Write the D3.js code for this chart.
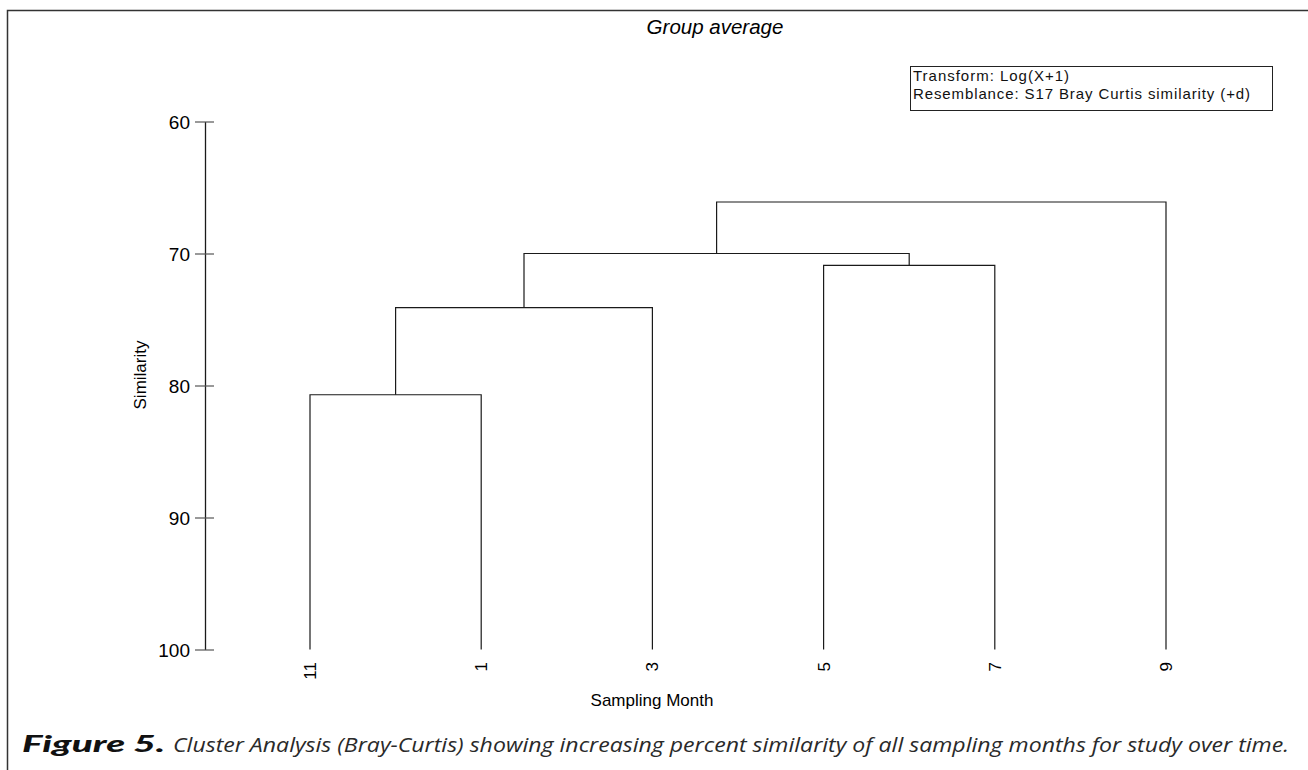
<!DOCTYPE html>
<html>
<head>
<meta charset="utf-8">
<script src="https://cdn.jsdelivr.net/npm/d3@7"></script>
<style>
  html, body { margin: 0; padding: 0; background: #fff; }
  svg { display: block; }
</style>
</head>
<body>
<svg id="chart" width="1308" height="770"></svg>
<script>
// Sampling months (leaf order of the dendrogram)
const leaves = ["11", "1", "3", "5", "7", "9"];
// Agglomeration steps: left child, right child, similarity (%) at which they join
const mergeLeft = ["11", "m1", "5", "m2", "m4"];
const mergeRight = ["1", "3", "7", "m3", "9"];
const mergeSimilarity = [80.7, 74.1, 70.9, 70.0, 66.1];
const mergeIds = ["m1", "m2", "m3", "m4", "m5"];
const yTicks = [60, 70, 80, 90, 100];

const svg = d3.select("#chart");
const ink = "#1a1a1a";
const sans = "Liberation Sans, Arial, sans-serif";

// page frame (top and left rules)
svg.append("path")
  .attr("d", "M7.5,770 V10.5 H1308")
  .attr("fill", "none").attr("stroke", "#333").attr("stroke-width", 1.5);

const x = d3.scalePoint().domain(leaves).range([310, 1166]);
const y = d3.scaleLinear().domain([60, 100]).range([121.5, 649.5]);

// position of every node: leaves at 100 % similarity, clusters at the midpoint of their children
const pos = {};
leaves.forEach(l => { pos[l] = { x: x(l), sim: 100 }; });
mergeIds.forEach((id, i) => {
  const a = pos[mergeLeft[i]], b = pos[mergeRight[i]];
  pos[id] = { x: (a.x + b.x) / 2, sim: mergeSimilarity[i] };
});

const links = mergeIds.map((id, i) => {
  const a = pos[mergeLeft[i]], b = pos[mergeRight[i]], s = mergeSimilarity[i];
  return `M${a.x},${y(a.sim)} V${y(s)} H${b.x} V${y(b.sim)}`;
});

svg.append("g")
  .selectAll("path")
  .data(links)
  .join("path")
  .attr("d", d => d)
  .attr("fill", "none")
  .attr("stroke", ink)
  .attr("stroke-width", 1.2);

// y axis
const yAxis = svg.append("g")
  .attr("transform", "translate(205,0)")
  .call(d3.axisLeft(y).tickValues(yTicks).tickSizeOuter(0).tickSizeInner(0).tickPadding(15));
yAxis.select(".domain").attr("stroke", ink).attr("stroke-width", 1.3);
yAxis.selectAll(".tick line").attr("x1", -10).attr("x2", 9).attr("stroke", "#555").attr("stroke-width", 1.2);
yAxis.selectAll(".tick text")
  .attr("font-family", sans)
  .attr("font-size", 19).attr("fill", "#000").attr("dy", "0.35em");

// leaf labels, reading upwards
svg.append("g")
  .selectAll("text")
  .data(leaves)
  .join("text")
  .attr("transform", d => `translate(${x(d)},662) rotate(-90)`)
  .attr("text-anchor", "end")
  .attr("dy", "0.35em")
  .attr("font-family", sans)
  .attr("font-size", 17)
  .text(d => d);

// axis titles
svg.append("text")
  .attr("transform", "translate(146,375) rotate(-90)")
  .attr("text-anchor", "middle")
  .attr("font-family", sans)
  .attr("font-size", 17)
  .text("Similarity");

svg.append("text")
  .attr("x", 652).attr("y", 706)
  .attr("text-anchor", "middle")
  .attr("font-family", sans)
  .attr("font-size", 17)
  .text("Sampling Month");

// title
svg.append("text")
  .attr("x", 715).attr("y", 34)
  .attr("text-anchor", "middle")
  .attr("font-family", sans)
  .attr("font-style", "italic")
  .attr("font-size", 20.5)
  .text("Group average");

// method note box
const noteLines = ["Transform: Log(X+1)", "Resemblance: S17 Bray Curtis similarity (+d)"];
const noteWidths = [156, 337];
const note = svg.append("g");
note.append("rect")
  .attr("x", 910.5).attr("y", 66.5).attr("width", 362).attr("height", 44)
  .attr("fill", "#fff").attr("stroke", "#222").attr("stroke-width", 1);
note.selectAll("text")
  .data(noteLines)
  .join("text")
  .attr("x", 913).attr("y", (d, i) => 81 + i * 17.5)
  .attr("font-family", sans)
  .attr("font-size", 15)
  .attr("fill", "#111")
  .attr("textLength", (d, i) => noteWidths[i])
  .attr("lengthAdjust", "spacing")
  .text(d => d);

// figure caption
svg.append("text")
  .attr("x", 22).attr("y", 752)
  .attr("font-family", "Lato, 'Open Sans', sans-serif")
  .attr("font-style", "italic")
  .attr("font-weight", 900)
  .attr("font-size", 22)
  .attr("fill", "#111")
  .attr("textLength", 143)
  .attr("lengthAdjust", "spacingAndGlyphs")
  .text("Figure 5.");
svg.append("text")
  .attr("x", 173).attr("y", 752)
  .attr("font-family", "'Open Sans', Lato, sans-serif")
  .attr("font-style", "italic")
  .attr("font-weight", 400)
  .attr("font-size", 20)
  .attr("fill", "#2a2a2a")
  .attr("textLength", 1116)
  .attr("lengthAdjust", "spacingAndGlyphs")
  .text("Cluster Analysis (Bray-Curtis) showing increasing percent similarity of all sampling months for study over time.");
</script>
</body>
</html>
